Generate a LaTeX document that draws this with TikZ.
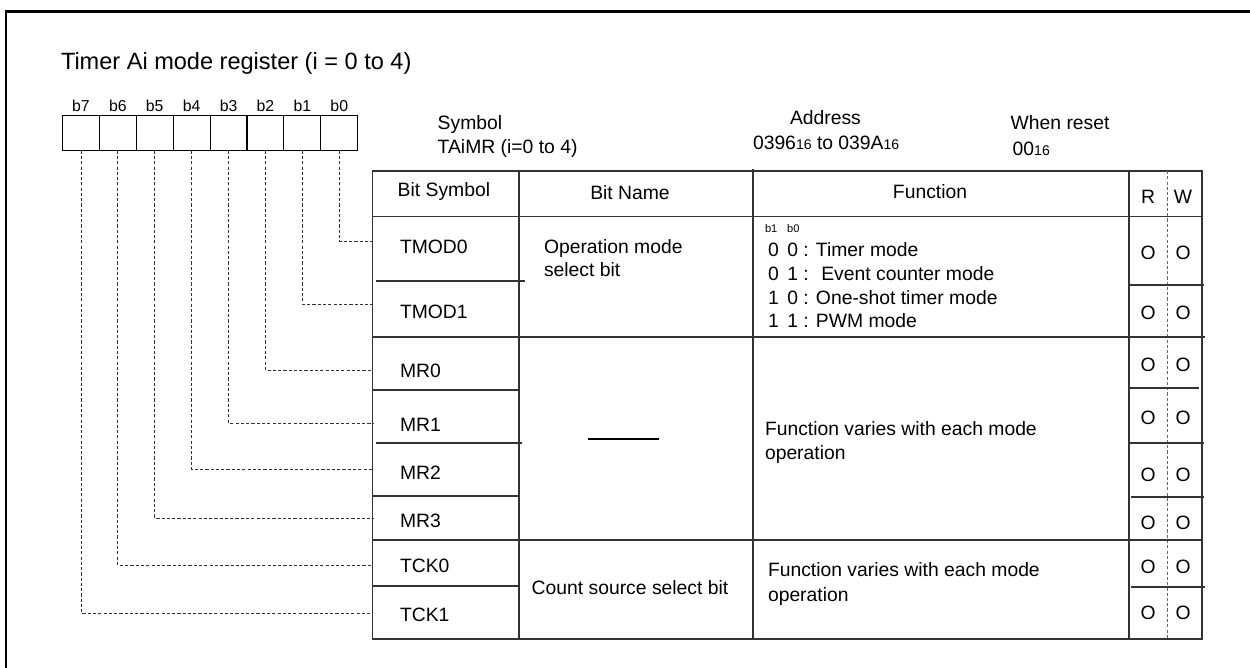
\documentclass[tikz,border=0pt]{standalone}
\usepackage{fontspec}
\setmainfont{Liberation Sans}
\usepackage{tikz}
\usetikzlibrary{positioning}

\newcommand{\hexsub}[1]{{\fontsize{8}{8}\selectfont #1}}

\begin{document}
\begin{tikzpicture}[x=0.02cm,y=-0.02cm,
                    every node/.style={inner sep=0pt,outer sep=0pt},
                    rule/.style={line width=0.6pt,draw=black!80},
                    conn/.style={line width=0.5pt,draw=black!80,dash pattern=on 1.8pt off 1.2pt}]
    \tikzstyle{txt}=[font=\fontsize{11}{13.5}\selectfont,anchor=base west,align=left]
    \tikzstyle{bitbox}=[draw,line width=0.6pt,minimum width=0.738cm,minimum height=0.7cm]
    \tikzstyle{bitlbl}=[font=\fontsize{9}{9}\selectfont,anchor=south]
    \tikzstyle{rwmark}=[font=\fontsize{11}{11}\selectfont]

    \useasboundingbox (0,0) rectangle (1250,668);
    \draw[line width=1.5pt] (6,668) -- (6,11.3) -- (1250,11.3);

    \node[anchor=base west,font=\fontsize{13.4}{16}\selectfont] (title) at (61,70) {Timer Ai mode register (i = 0 to 4)};

    % register bits
    \foreach \k in {0,...,7} {
        \node[bitbox]					(b\k)	at ({339.25-36.9*\k},133.2)	{};
        \node[bitlbl, above=2.3pt of b\k]	(l\k)		{b\k};
    }

    % header line
    \node[txt]	(symhd)		at (437.7,129.5)	{Symbol};
    \node[txt]	(symname)	at (437.7,153.5)	{TAiMR (i=0 to 4)};
    \node[txt]	(adrhd)		at (790,125)		{Address};
    \node[txt]	(adr)		at (753,150)		{0396\hexsub{16} to 039A\hexsub{16}};
    \node[txt]	(rsthd)		at (1010.7,130)	{When reset};
    \node[txt]	(rst)		at (1012.7,156)	{00\hexsub{16}};

    % table
    \draw[rule] (372.7,171) rectangle (1202,639);
    \draw[rule] (372.7,216.7) -- (1202,216.7);
    \draw[rule] (519,171) -- (519,639);
    \draw[rule] (753,169) -- (753,639);
    \draw[rule] (1129,171) -- (1129,639);
    \draw[conn,draw=black!60] (1167,171) -- (1167,639);
    \draw[rule] (372.7,337) -- (1205,337);
    \draw[rule] (372.7,540) -- (1202,540);
    \draw[rule] (376,281) -- (525,281)  (372.7,390) -- (519,390)  (376,443) -- (522,443)
                (372.7,496) -- (520,496)  (372.7,586) -- (519,586);
    \draw[rule] (1129,285) -- (1204,285)  (1128,388) -- (1199,388)  (1129,443) -- (1204,443)
                (1131,497) -- (1204,497)  (1131,587) -- (1205,587);

    \node[txt]				(hsym)	at (397.7,197)	{Bit Symbol};
    \node[txt,anchor=base]	(hname)	at (630,200)	{Bit Name};
    \node[txt,anchor=base]	(hfunc)	at (930,199)	{Function};
    \node[txt,anchor=base]	(hr)	at (1148,203.5)	{R};
    \node[txt,anchor=base]	(hw)	at (1183,203.5)	{W};

    % rows
    \foreach \k/\ly/\tb/\oy/\t in {0/241/254/253/TMOD0, 1/304/319/313/TMOD1, 2/370/377.5/365/MR0,
                                  3/423/431.5/418/MR1, 4/469/479.5/475/MR2, 5/518/527/523/MR3,
                                  6/565/572/567/TCK0, 7/613/621/613/TCK1} {
        \coordinate (in\k) at (372.7,\ly);
        \node[txt]		(sym\k)	at (400,\tb)	{\t};
        \node[rwmark]	(r\k)	at (1148,\oy)	{O};
        \node[rwmark]	(w\k)	at (1183,\oy)	{O};
        \draw[conn] (b\k.south) |- (in\k);
    }

    % base of a multi-line node is its last line
    \node[txt]	(nmode)	at (544,277)	{Operation mode\\select bit};
    \draw[line width=0.6pt] (588,439) -- (659,439);
    \node[txt,anchor=base]	(ncount)	at (630,594)	{Count source select bit};

    \node[txt,anchor=base west,font=\fontsize{6.3}{6.3}\selectfont]	(fbits)	at (765,232.7)	{b1\hspace{5.6pt}b0};
    \node[txt]	(fmode)	at (768,328)	{0\ \,0 : Timer mode\\0\ \,1 : \ Event counter mode\\1\ \,0 : One-shot timer mode\\1\ \,1 : PWM mode};
    \node[txt,font=\fontsize{11}{13.8}\selectfont]	(fmr)	at (765,459.5)	{Function varies with each mode\\operation};
    \node[txt,font=\fontsize{11}{14}\selectfont]	(ftck)	at (768,601)	{Function varies with each mode\\operation};
\end{tikzpicture}
\end{document}
